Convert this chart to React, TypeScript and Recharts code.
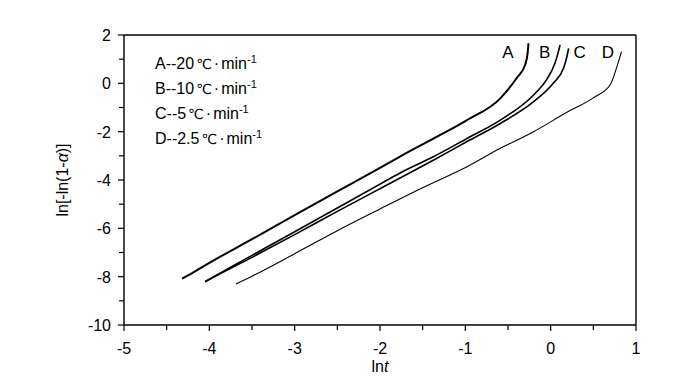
import React from 'react';
import {
  LineChart,
  Line,
  XAxis,
  YAxis,
  ReferenceLine,
  ReferenceDot,
} from 'recharts';

// ln t values and ln[-ln(1-a)] values
const lnT_A = [-4.32, -4.2, -4.0, -3.5, -3.0, -2.5, -2.0, -1.77, -1.37, -0.98, -0.59, -0.4, -0.3, -0.27, -0.26];
const y_A = [-8.08, -7.85, -7.43, -6.45, -5.45, -4.47, -3.5, -3.04, -2.28, -1.52, -0.62, 0.21, 0.76, 1.25, 1.66];

const lnT_B = [-4.05, -4.0, -3.5, -3.0, -2.5, -2.0, -1.77, -1.37, -0.98, -0.59, -0.2, -0.05, 0.05, 0.09, 0.11];
const y_B = [-8.2, -8.1, -7.12, -6.14, -5.16, -4.17, -3.72, -3.03, -2.28, -1.52, -0.48, 0.14, 0.83, 1.3, 1.59];

const lnT_C = [-4.05, -4.0, -3.5, -3.0, -2.5, -2.0, -1.77, -1.37, -0.98, -0.59, -0.2, 0.03, 0.15, 0.19, 0.21];
const y_C = [-8.22, -8.12, -7.2, -6.26, -5.3, -4.36, -3.93, -3.17, -2.41, -1.66, -0.76, 0.0, 0.62, 1.1, 1.45];

const lnT_D = [-3.69, -3.5, -3.0, -2.5, -2.0, -1.49, -0.98, -0.59, -0.2, 0.19, 0.5, 0.7, 0.77, 0.83];
const y_D = [-8.3, -7.98, -7.05, -6.1, -5.2, -4.3, -3.45, -2.69, -2.0, -1.2, -0.6, -0.05, 0.62, 1.31];

const xTicks = [-5, -4.5, -4, -3.5, -3, -2.5, -2, -1.5, -1, -0.5, 0, 0.5, 1];
const yTicks = [-10, -9, -8, -7, -6, -5, -4, -3, -2, -1, 0, 1, 2];

const curveNames = ['A', 'B', 'C', 'D'];
const curveLabelX = [-0.5, -0.07, 0.34, 0.67];
const curveLabelY = 1.3;
const legendRows = ['A--20', 'B--10', 'C--5', 'D--2.5'];

const zip = (xs: number[], ys: number[]) => xs.map((x, i) => ({ x, y: ys[i] }));

const dataA = zip(lnT_A, y_A);
const dataB = zip(lnT_B, y_B);
const dataC = zip(lnT_C, y_C);
const dataD = zip(lnT_D, y_D);

const FONT = '"Liberation Sans", Arial, sans-serif';

function XTick(props: any) {
  const { x, y, payload } = props;
  const major = Number.isInteger(payload.value);
  return (
    <g>
      <line x1={x} x2={x} y1={y} y2={y + (major ? 6 : 5)} stroke="#000" strokeWidth={1.2} />
      {major && (
        <text x={x} y={y + 29} textAnchor="middle" fontSize={16} fontFamily={FONT} fill="#000">
          {payload.value}
        </text>
      )}
    </g>
  );
}

function YTick(props: any) {
  const { x, y, payload } = props;
  const major = payload.value % 2 === 0;
  return (
    <g>
      <line x1={x - (major ? 6 : 5)} x2={x} y1={y} y2={y} stroke="#000" strokeWidth={1.2} />
      {major && (
        <text x={x - 13} y={y + 6} textAnchor="end" fontSize={16} fontFamily={FONT} fill="#000">
          {payload.value}
        </text>
      )}
    </g>
  );
}

export default function App() {
  return (
    <div
      style={{
        position: 'absolute',
        left: 0,
        top: 0,
        width: 700,
        height: 382,
        background: '#fff',
        fontFamily: FONT,
      }}
    >
      <LineChart width={700} height={382} margin={{ top: 35, right: 64, bottom: 17, left: 70 }}>
        <XAxis
          type="number"
          dataKey="x"
          domain={[-5, 1]}
          ticks={xTicks}
          interval={0}
          allowDataOverflow
          tickSize={0}
          tickMargin={0}
          tickLine={false}
          tick={<XTick />}
          height={40}
          axisLine={{ stroke: '#000', strokeWidth: 1.4 }}
        />
        <YAxis
          type="number"
          dataKey="y"
          domain={[-10, 2]}
          ticks={yTicks}
          interval={0}
          allowDataOverflow
          tickSize={0}
          tickMargin={0}
          tickLine={false}
          tick={<YTick />}
          width={54}
          axisLine={{ stroke: '#000', strokeWidth: 1.4 }}
        />
        <ReferenceLine y={2} stroke="#000" strokeWidth={1.4} />
        <ReferenceLine x={1} stroke="#000" strokeWidth={1.4} />
        <Line data={dataA} dataKey="y" type="monotone" stroke="#000" strokeWidth={2} dot={false} isAnimationActive={false} />
        <Line data={dataB} dataKey="y" type="monotone" stroke="#000" strokeWidth={1.6} dot={false} isAnimationActive={false} />
        <Line data={dataC} dataKey="y" type="monotone" stroke="#000" strokeWidth={1.6} dot={false} isAnimationActive={false} />
        <Line data={dataD} dataKey="y" type="monotone" stroke="#000" strokeWidth={1.1} dot={false} isAnimationActive={false} />
        {curveNames.map((n, i) => (
          <ReferenceDot
            key={n}
            x={curveLabelX[i]}
            y={curveLabelY}
            r={0}
            fill="none"
            stroke="none"
            label={{ value: n, position: 'center', fill: '#000', fontSize: 17, fontFamily: FONT }}
          />
        ))}
      </LineChart>

      {/* legend block */}
      <div style={{ position: 'absolute', left: 155, top: 52, fontSize: 16, lineHeight: '23px', color: '#000' }}>
        {legendRows.map((r) => (
          <div key={r} style={{ whiteSpace: 'nowrap' }}>
            {r}
            <span style={{ fontFamily: '"DejaVu Sans", sans-serif', fontSize: 14, marginLeft: 2 }}>℃</span>
            <span style={{ margin: '0 2px' }}>·</span>
            min
            <span style={{ fontSize: 11, position: 'relative', top: -6 }}>-1</span>
          </div>
        ))}
      </div>

      {/* axis titles */}
      <div
        style={{
          position: 'absolute',
          left: 63,
          top: 180,
          transform: 'translate(-50%, -50%) rotate(-90deg)',
          fontSize: 16,
          whiteSpace: 'nowrap',
          color: '#000',
        }}
      >
        ln[-ln(1-<i>α</i>)]
      </div>
      <div
        style={{
          position: 'absolute',
          left: 380,
          top: 367,
          transform: 'translate(-50%, -50%)',
          fontSize: 16,
          whiteSpace: 'nowrap',
          color: '#000',
        }}
      >
        ln<i>t</i>
      </div>
    </div>
  );
}
